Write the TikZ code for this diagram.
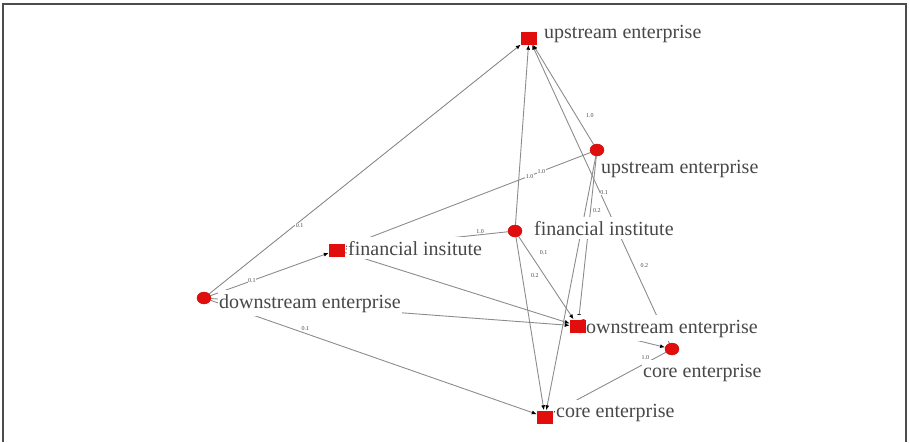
\documentclass[tikz,border=0pt]{standalone}
\usepackage{fontspec}
\setmainfont{Liberation Serif}
\usetikzlibrary{positioning,shapes.geometric,arrows.meta}
\pgfdeclarelayer{edges}
\pgfsetlayers{edges,main}
\definecolor{nodered}{RGB}{226,14,14}
\definecolor{edgegray}{RGB}{140,140,140}
\definecolor{textgray}{RGB}{72,72,72}
\tikzset{rvert/.style={ellipse,fill=nodered,draw=nodered!85!black,line width=0.4pt,minimum width=14pt,minimum height=12pt,inner sep=0pt}  }
\tikzset{rsq/.style={rectangle,fill=nodered,minimum width=16pt,minimum height=13pt,inner sep=0pt}  }
\tikzset{nlab/.style={anchor=base west,fill=white,text=textgray,font=\fontsize{20}{20}\selectfont,inner xsep=1pt,inner ysep=4pt}  }
\tikzset{wlab/.style={fill=white,text=textgray,font=\fontsize{6}{6}\selectfont,inner sep=0.5pt}  }
\tikzset{wedge/.style={draw=edgegray,line width=0.9pt,->}  }
\tikzset{>={Latex[length=5pt,width=4pt,color=black]}}

\begin{document}
\begin{tikzpicture}[x=1pt,y=-1pt]
\useasboundingbox (0,0) rectangle (910,442);
\draw[gray!60!black,line width=1.5pt] (3,442) -- (3,4) -- (906,4) -- (906,442);

    % names of the vertices
    \node[nlab] (su-t) at (543,38) {upstream enterprise};
    \node[nlab] (cu-t) at (600,173) {upstream enterprise};
    \node[nlab] (cf-t) at (533,235) {financial institute};
    \node[nlab] (sf-t) at (347,255) {financial insitute};
    \node[nlab] (cd-t) at (218,308) {downstream enterprise};
    \node[nlab] (sd-t) at (575,333) {downstream enterprise};
    \node[nlab] (cc-t) at (642,377) {core enterprise};
    \node[nlab] (sc-t) at (555,417) {core enterprise};

    % vertices
    \node[rsq] (su) at (529,38) {};
    \node[rvert] (cu) at (597,150) {};
    \node[rvert] (cf) at (515,231) {};
    \node[rsq] (sf) at (337,250) {};
    \node[rvert] (cd) at (204,298) {};
    \node[rsq] (sd) at (578,326) {};
    \node[rvert] (cc) at (672,349) {};
    \node[rsq] (sc) at (545,417) {};

\begin{pgfonlayer}{edges}
    \draw[wedge] (cd) -- node[wlab,pos=.29,below=1pt] (w1) {0.1} (su);
    \draw[wedge] (cd) -- node[wlab,pos=.35] (w2) {0.1} (sf);
    \draw[wedge] (cd) -- node[wlab,pos=.29,above=2pt] (w3) {0.1} (sc);
    \draw[wedge] (cd) -- (sd);
    \draw[wedge] (cu) -- node[wlab,pos=.2] (w4) {1.0} (sf);
    \draw[wedge] (cf) -- node[wlab,pos=.27,right=6pt] (w5) {1.0} (su);
    \draw[wedge] (cf) -- node[wlab,pos=.17,above=0pt] (w6) {1.0} (sf);
    \draw[wedge] (cu) -- node[wlab,pos=.29,right=9pt] (w7) {1.0} (su);
    \draw[wedge] (cc) -- node[wlab,pos=.26,right=6pt] (w8) {0.2} (su);
    \draw[wedge] (cu) -- node[wlab,pos=.22,right=7pt] (w9) {0.1} (sd);
    \draw[wedge] (cu) -- node[wlab,pos=.215,right=7pt] (w10) {0.2} (sc);
    \draw[wedge] (cf) -- node[wlab,pos=.19,right=10pt] (w11) {0.1} (sd);
    \draw[wedge] (cf) -- node[wlab,pos=.22,right=8pt] (w12) {0.2} (sc);
    \draw[wedge] (cc) -- node[wlab,pos=.14,above left=0pt] (w13) {1.0} (sc);
    \draw[wedge] (sf) -- (sd);
    \draw[wedge] (sd) -- (cc);
\end{pgfonlayer}
\end{tikzpicture}
\end{document}
